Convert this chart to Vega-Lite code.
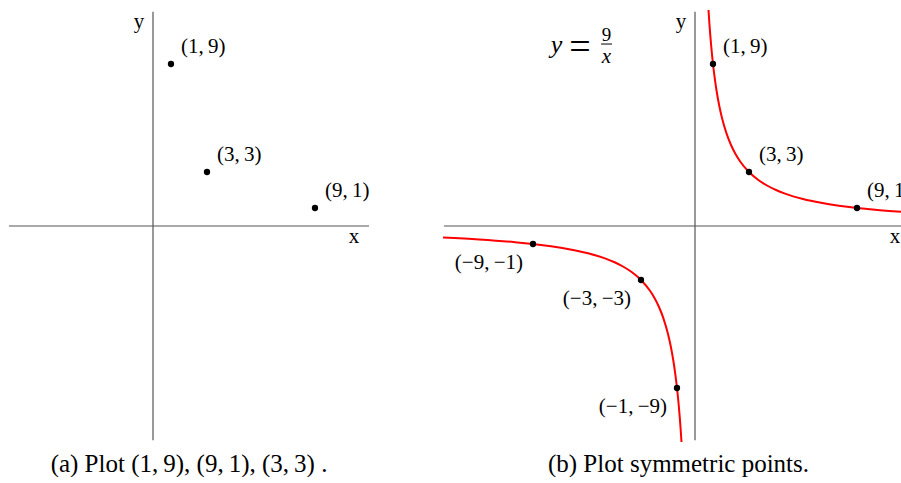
{
  "$schema": "https://vega.github.io/schema/vega-lite/v6.json",
  "autosize": {"type": "pad"},
  "padding": {"left": 8, "top": 10, "right": 0, "bottom": 0},
  "background": "white",
  "spacing": 74,
  "bounds": "flush",
  "config": {
    "view": {"stroke": null},
    "text": {"font": "Liberation Serif", "color": "black"},
    "title": {"font": "Liberation Serif", "fontSize": 25, "fontWeight": "normal", "color": "black"}
  },
  "hconcat": [
    {
      "width": 360,
      "height": 432,
      "title": {"text": "(a) Plot (1,\u20099), (9,\u20091), (3,\u20093) .", "orient": "bottom", "offset": 10},
      "encoding": {
        "x": {"field": "x", "type": "quantitative", "scale": {"domain": [-8, 12], "nice": false, "zero": false}, "axis": null},
        "y": {"field": "y", "type": "quantitative", "scale": {"domain": [-12, 12], "nice": false, "zero": false}, "axis": null}
      },
      "layer": [
        {
          "data": {"values": [
            {"x": -8, "x2": 12, "y": 0, "y2": 0},
            {"x": 0, "x2": 0, "y": -11.9, "y2": 11.9}
          ]},
          "mark": {"type": "rule", "color": "#555555", "strokeWidth": 1.2},
          "encoding": {"x2": {"field": "x2"}, "y2": {"field": "y2"}}
        },
        {
          "data": {"values": [
            {"x": 11.17, "y": -0.94, "t": "x"},
            {"x": -0.78, "y": 11.0, "t": "y"}
          ]},
          "mark": {"type": "text", "fontSize": 21, "align": "center", "baseline": "alphabetic"},
          "encoding": {"text": {"field": "t"}}
        },
        {
          "data": {"values": [
            {"x": 1, "y": 9, "label": "(1,\u20099)"},
            {"x": 3, "y": 3, "label": "(3,\u20093)"},
            {"x": 9, "y": 1, "label": "(9,\u20091)"}
          ]},
          "layer": [
            {"mark": {"type": "circle", "color": "black", "opacity": 1, "size": 40}},
            {
              "mark": {"type": "text", "fontSize": 21, "align": "left", "baseline": "alphabetic", "dx": 10, "dy": -11},
              "encoding": {"text": {"field": "label"}}
            }
          ]
        }
      ]
    },
    {
      "width": 459,
      "height": 432,
      "title": {"text": "(b) Plot symmetric points.", "orient": "bottom", "offset": 10, "dx": 6},
      "encoding": {
        "x": {"field": "x", "type": "quantitative", "scale": {"domain": [-14, 11.5], "nice": false, "zero": false}, "axis": null},
        "y": {"field": "y", "type": "quantitative", "scale": {"domain": [-12, 12], "nice": false, "zero": false}, "axis": null}
      },
      "layer": [
        {
          "data": {"values": [
            {"x": -13.95, "x2": 11.5, "y": 0, "y2": 0},
            {"x": 0, "x2": 0, "y": -11.9, "y2": 11.9}
          ]},
          "mark": {"type": "rule", "color": "#555555", "strokeWidth": 1.2},
          "encoding": {"x2": {"field": "x2"}, "y2": {"field": "y2"}}
        },
        {
          "data": {"values": [
            {"x": 11.11, "y": -0.94, "t": "x"},
            {"x": -0.78, "y": 11.0, "t": "y"}
          ]},
          "mark": {"type": "text", "fontSize": 21, "align": "center", "baseline": "alphabetic"},
          "encoding": {"text": {"field": "t"}}
        },
        {
          "data": {"values": [
            {"branch": "pos", "x": 0.75, "y": 12},
            {"branch": "pos", "x": 0.8, "y": 11.25},
            {"branch": "pos", "x": 0.85, "y": 10.588},
            {"branch": "pos", "x": 0.9, "y": 10},
            {"branch": "pos", "x": 1, "y": 9},
            {"branch": "pos", "x": 1.1, "y": 8.182},
            {"branch": "pos", "x": 1.2, "y": 7.5},
            {"branch": "pos", "x": 1.35, "y": 6.667},
            {"branch": "pos", "x": 1.5, "y": 6},
            {"branch": "pos", "x": 1.75, "y": 5.143},
            {"branch": "pos", "x": 2, "y": 4.5},
            {"branch": "pos", "x": 2.25, "y": 4},
            {"branch": "pos", "x": 2.5, "y": 3.6},
            {"branch": "pos", "x": 3, "y": 3},
            {"branch": "pos", "x": 3.5, "y": 2.571},
            {"branch": "pos", "x": 4, "y": 2.25},
            {"branch": "pos", "x": 4.5, "y": 2},
            {"branch": "pos", "x": 5, "y": 1.8},
            {"branch": "pos", "x": 6, "y": 1.5},
            {"branch": "pos", "x": 7, "y": 1.286},
            {"branch": "pos", "x": 8, "y": 1.125},
            {"branch": "pos", "x": 9, "y": 1},
            {"branch": "pos", "x": 10, "y": 0.9},
            {"branch": "pos", "x": 11.5, "y": 0.783},
            {"branch": "neg", "x": -14, "y": -0.643},
            {"branch": "neg", "x": -12, "y": -0.75},
            {"branch": "neg", "x": -10, "y": -0.9},
            {"branch": "neg", "x": -9, "y": -1},
            {"branch": "neg", "x": -8, "y": -1.125},
            {"branch": "neg", "x": -7, "y": -1.286},
            {"branch": "neg", "x": -6, "y": -1.5},
            {"branch": "neg", "x": -5, "y": -1.8},
            {"branch": "neg", "x": -4.5, "y": -2},
            {"branch": "neg", "x": -4, "y": -2.25},
            {"branch": "neg", "x": -3.5, "y": -2.571},
            {"branch": "neg", "x": -3, "y": -3},
            {"branch": "neg", "x": -2.5, "y": -3.6},
            {"branch": "neg", "x": -2.25, "y": -4},
            {"branch": "neg", "x": -2, "y": -4.5},
            {"branch": "neg", "x": -1.75, "y": -5.143},
            {"branch": "neg", "x": -1.5, "y": -6},
            {"branch": "neg", "x": -1.35, "y": -6.667},
            {"branch": "neg", "x": -1.2, "y": -7.5},
            {"branch": "neg", "x": -1.1, "y": -8.182},
            {"branch": "neg", "x": -1, "y": -9},
            {"branch": "neg", "x": -0.9, "y": -10},
            {"branch": "neg", "x": -0.85, "y": -10.588},
            {"branch": "neg", "x": -0.8, "y": -11.25},
            {"branch": "neg", "x": -0.75, "y": -12}
          ]},
          "mark": {"type": "line", "color": "#ff0000", "strokeWidth": 2, "interpolate": "monotone", "clip": true},
          "encoding": {"detail": {"field": "branch"}}
        },
        {
          "data": {"values": [
            {"x": 1, "y": 9, "label": "(1,\u20099)", "side": "pos"},
            {"x": 3, "y": 3, "label": "(3,\u20093)", "side": "pos"},
            {"x": 9, "y": 1, "label": "(9,\u20091)", "side": "pos"},
            {"x": -9, "y": -1, "label": "(\u22129,\u2009\u22121)", "side": "neg"},
            {"x": -3, "y": -3, "label": "(\u22123,\u2009\u22123)", "side": "neg"},
            {"x": -1, "y": -9, "label": "(\u22121,\u2009\u22129)", "side": "neg"}
          ]},
          "layer": [
            {"mark": {"type": "circle", "color": "black", "opacity": 1, "size": 40}},
            {
              "transform": [{"filter": "datum.side === 'pos'"}],
              "mark": {"type": "text", "fontSize": 21, "align": "left", "baseline": "alphabetic", "dx": 10, "dy": -11},
              "encoding": {"text": {"field": "label"}}
            },
            {
              "transform": [{"filter": "datum.side === 'neg'"}],
              "mark": {"type": "text", "fontSize": 21, "align": "right", "baseline": "alphabetic", "dx": -10, "dy": 25},
              "encoding": {"text": {"field": "label"}}
            }
          ]
        },
        {
          "data": {"values": [{"x": -7.7, "y": 9.61, "t": "y"}]},
          "mark": {"type": "text", "fontSize": 26, "fontStyle": "italic", "align": "center", "baseline": "alphabetic"},
          "encoding": {"text": {"field": "t"}}
        },
        {
          "data": {"values": [{"x": -6.39, "y": 9.3, "t": "="}]},
          "mark": {"type": "text", "fontSize": 38, "align": "center", "baseline": "alphabetic"},
          "encoding": {"text": {"field": "t"}}
        },
        {
          "data": {"values": [{"x": -4.92, "y": 10.28, "t": "9"}]},
          "mark": {"type": "text", "fontSize": 19, "align": "center", "baseline": "alphabetic"},
          "encoding": {"text": {"field": "t"}}
        },
        {
          "data": {"values": [{"x": -5.22, "x2": -4.61, "y": 10.11}]},
          "mark": {"type": "rule", "color": "black", "strokeWidth": 1},
          "encoding": {"x2": {"field": "x2"}}
        },
        {
          "data": {"values": [{"x": -4.92, "y": 9.06, "t": "x"}]},
          "mark": {"type": "text", "fontSize": 21, "fontStyle": "italic", "align": "center", "baseline": "alphabetic"},
          "encoding": {"text": {"field": "t"}}
        }
      ]
    }
  ]
}
